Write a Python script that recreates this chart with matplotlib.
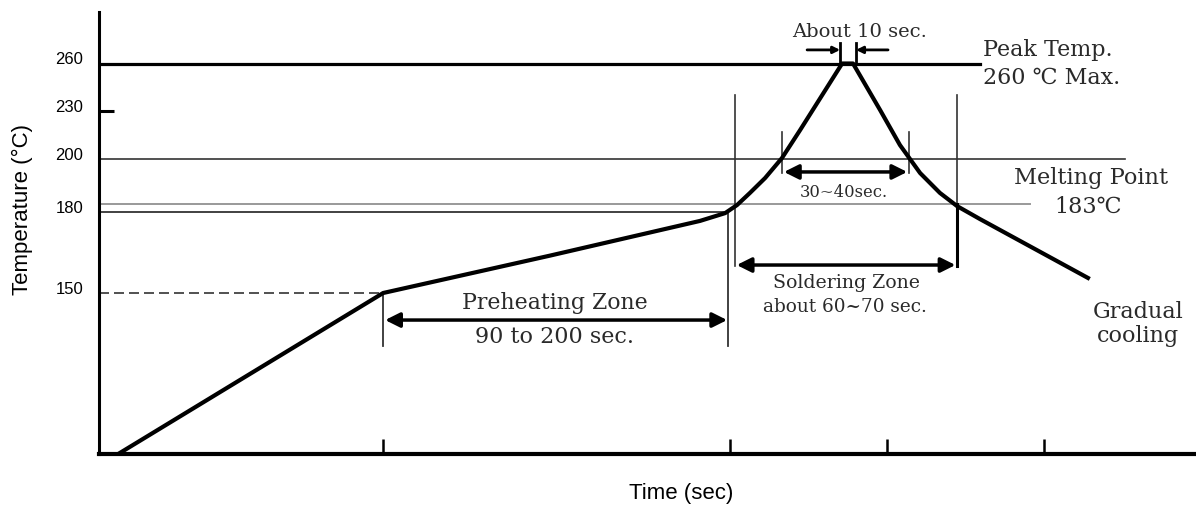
import numpy as np
import matplotlib.pyplot as plt
from matplotlib.transforms import ScaledTranslation

# 示意图：温度轴是非线性的，用分段映射
temp_anchor = [25, 150, 200, 260, 285]
height_anchor = [0, 161, 295.5, 390.5, 442]

# 回流焊温度曲线 (时间, 温度)
time_s = [5.8, 86, 136.5, 181.9, 189.5, 193.1, 197.0, 201.6, 206.7, 212.2,
          224.9, 228.2, 236.4, 242.4, 248.5, 254.5, 259.7, 266.6, 299.3]
temp_c = [25, 150, 163.9, 176.8, 179.7, 182.7, 187.2, 192.75, 200.3, 218,
          260, 260, 230.6, 208.5, 194.6, 187.2, 182.3, 177.5, 155.6]

y_ticks = [150, 180, 200, 230, 260]
x_ticks = [86, 191, 238.5, 286]

peak_temp = 260
melt_temp = 183
preheat_end = 180
preheat_start = 150


def fwd(t):
    return np.interp(t, temp_anchor, height_anchor)


def inv(h):
    return np.interp(h, height_anchor, temp_anchor)


fig = plt.figure(figsize=(11.96, 5.08), dpi=100)
ax = fig.add_axes([99 / 1196, 54 / 508, 1097 / 1196, 442 / 508])
ax.set_yscale('function', functions=(fwd, inv))
ax.set_xlim(0, 332)
ax.set_ylim(25, 285)

serif = ['DejaVu Serif', 'DejaVu Sans', 'Noto Sans CJK SC']
tc = '#2a2a2a'

# 参考线
ax.plot([0, 266.6], [peak_temp, peak_temp], color='black', lw=2.3)
ax.plot([0, 310.5], [200, 200], color='#333333', lw=1.2)
ax.plot([0, 281.8], [melt_temp, melt_temp], color='#999999', lw=1.4)
ax.plot([0, 190.4, 190.4], [preheat_end, preheat_end, 109], color='#333333', lw=1.3)
ax.plot([0, 86], [preheat_start, preheat_start], color='#333333', lw=1.2, ls=(0, (6, 3)))
ax.plot([86, 86], [109, 150], color='#333333', lw=1.3)

# 焊接区竖线
ax.plot([192.5, 192.5], [160, 240], color='#333333', lw=1.2)
ax.plot([259.7, 259.7], [183, 240], color='#333333', lw=1.2)
ax.plot([259.7, 259.7], [160, 183], color='black', lw=2.2)
ax.plot([206.7, 206.7], [194.5, 216.7], color='#333333', lw=1.2)
ax.plot([245.2, 245.2], [194.5, 216.7], color='#333333', lw=1.2)
ax.plot([224.3, 224.3], [260, 270], color='black', lw=2)
ax.plot([229.1, 229.1], [260, 270], color='black', lw=2)

# 曲线
ax.plot(time_s, temp_c, color='black', lw=3, solid_joinstyle='round')

# 箭头
big = dict(arrowstyle='<|-|>', mutation_scale=22, lw=2.5, color='black',
           shrinkA=0, shrinkB=0)
ax.annotate('', xy=(86.6, 129), xytext=(190.1, 129), arrowprops=big)
ax.annotate('', xy=(193, 160.4), xytext=(259.2, 160.4), arrowprops=big)
ax.annotate('', xy=(207.3, 195), xytext=(244.6, 195), arrowprops=big)
small = dict(arrowstyle='-|>', mutation_scale=10, lw=2, color='black',
             shrinkA=0, shrinkB=0)
ax.annotate('', xy=(224.3, 266.6), xytext=(214.3, 266.6), arrowprops=small)
ax.annotate('', xy=(229.1, 266.6), xytext=(238.8, 266.6), arrowprops=small)

# 文字
ax.text(230.3, 275.3, 'About 10 sec.', family=serif, size=14, color=tc,
        ha='center', va='center')
ax.text(267.6, 266.6, 'Peak Temp.', family=serif, size=16, color=tc,
        ha='left', va='center')
ax.text(267.6, 250.8, '260 \u2103 Max.', family=serif, size=16, color=tc,
        ha='left', va='center')
ax.text(300.2, 192.75, 'Melting Point', family=serif, size=16.2, color=tc,
        ha='center', va='center')
ax.text(299.3, 182, '183\u2103', family=serif, size=16, color=tc,
        ha='center', va='center')
ax.text(225.5, 187.2, '30~40sec.', family=serif, size=11.8, color=tc,
        ha='center', va='center')
ax.text(226.1, 153.7, 'Soldering Zone', family=serif, size=13.6, color=tc,
        ha='center', va='center')
ax.text(225.8, 139.1, 'about 60~70 sec.', family=serif, size=13.3, color=tc,
        ha='center', va='center')
ax.text(138, 142.2, 'Preheating Zone', family=serif, size=15.8, color=tc,
        ha='center', va='center')
ax.text(138, 115.8, '90 to 200 sec.', family=serif, size=16, color=tc,
        ha='center', va='center')
ax.text(314.5, 135.2, 'Gradual', family=serif, size=16, color=tc,
        ha='center', va='center')
ax.text(314.5, 116.6, 'cooling', family=serif, size=16, color=tc,
        ha='center', va='center')

# 坐标轴
for s in ['top', 'right']:
    ax.spines[s].set_visible(False)
ax.spines['left'].set_linewidth(2.2)
ax.spines['bottom'].set_linewidth(3)

ax.set_xticks(x_ticks)
ax.set_xticklabels([])
ax.tick_params(axis='x', direction='in', length=11, width=1.8)

ax.set_yticks(y_ticks)
ax.set_yticklabels([str(v) for v in y_ticks], family='Liberation Sans', size=12)
ax.tick_params(axis='y', direction='in', length=11, width=2.2, pad=11.5)
for tk, v in zip(ax.yaxis.get_major_ticks(), y_ticks):
    if v != 230:
        tk.tick1line.set_visible(False)
offset = ScaledTranslation(0, 0.05, fig.dpi_scale_trans)
for lbl in ax.get_yticklabels():
    lbl.set_transform(lbl.get_transform() + offset)

fig.text(22 / 1196, 1 - 210 / 508, 'Temperature (\u00b0C)', family='Liberation Sans',
         size=16, rotation=90, ha='center', va='center')
fig.text(681 / 1196, 1 - 494 / 508, 'Time (sec)', family='Liberation Sans',
         size=16, ha='center', va='center')

fig.savefig('out.png', dpi=100)
